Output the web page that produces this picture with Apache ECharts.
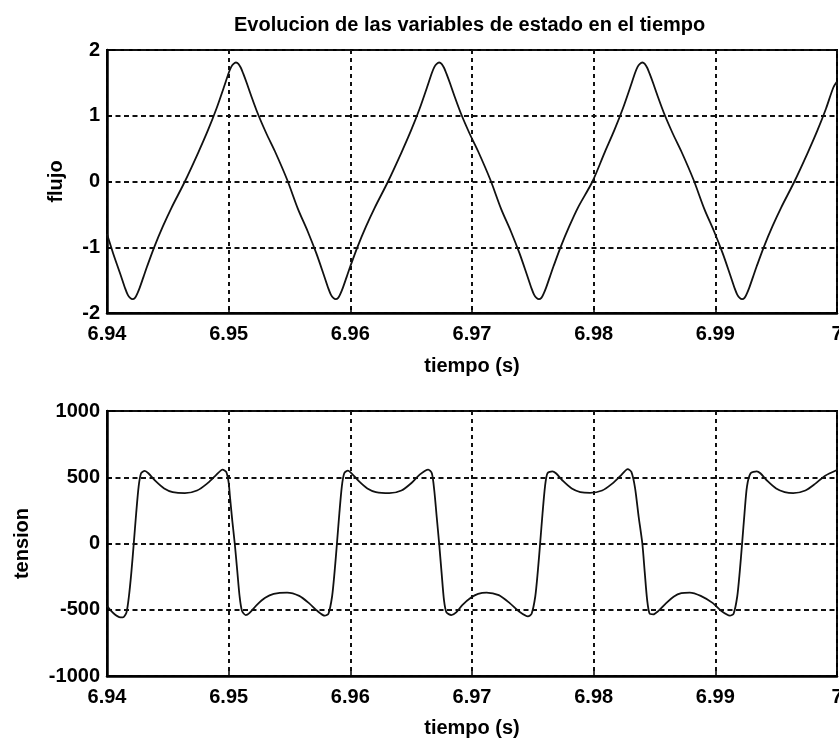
<!DOCTYPE html>
<html>
<head>
<meta charset="utf-8">
<script src="https://cdn.jsdelivr.net/npm/echarts@6/dist/echarts.min.js"></script>
<style>
html,body{margin:0;padding:0;background:#fff;}
#c{width:839px;height:740px;}
</style>
</head>
<body>
<div id="c"></div>
<script>
// ---- data ----
const xTickLabels = ['6.94', '6.95', '6.96', '6.97', '6.98', '6.99', '7'];
const fluxTicks = ['-2', '-1', '0', '1', '2'];
const tensionTicks = ['-1000', '-500', '0', '500', '1000'];

const fluxT = [
  6.9400, 6.9405, 6.9411, 6.9415, 6.9417, 6.9419, 6.9421,
  6.9423, 6.9425, 6.9427, 6.9430, 6.9433, 6.9439, 6.9446, 6.9453, 6.9464, 6.9475, 6.9483, 6.9490, 6.9496, 6.9500, 6.9502, 6.9504, 6.9506,
  6.9508, 6.9510, 6.9512, 6.9515, 6.9518, 6.9524, 6.9531, 6.9538, 6.9548, 6.9557, 6.9565, 6.9572, 6.9578, 6.9582, 6.9584, 6.9586, 6.9588,
  6.9590, 6.9592, 6.9594, 6.9597, 6.9600, 6.9606, 6.9613, 6.9620, 6.9631, 6.9642, 6.9650, 6.9657, 6.9663, 6.9667, 6.9669, 6.9671, 6.9673,
  6.9675, 6.9677, 6.9679, 6.9682, 6.9685, 6.9691, 6.9698, 6.9705, 6.9715, 6.9724, 6.9732, 6.9739, 6.9745, 6.9749, 6.9751, 6.9753, 6.9755,
  6.9757, 6.9759, 6.9761, 6.9764, 6.9767, 6.9773, 6.9780, 6.9787, 6.9799, 6.9809, 6.9817, 6.9824, 6.9830, 6.9834, 6.9836, 6.9838, 6.9840,
  6.9842, 6.9844, 6.9846, 6.9849, 6.9852, 6.9858, 6.9865, 6.9872, 6.9882, 6.9891, 6.9899, 6.9906, 6.9912, 6.9916, 6.9918, 6.9920, 6.9922,
  6.9924, 6.9926, 6.9928, 6.9931, 6.9934, 6.9940, 6.9947, 6.9954, 6.9965, 6.9976, 6.9984, 6.9991, 6.9997, 7.0000
];
const fluxV = [
  -0.80, -1.09, -1.41, -1.63, -1.72, -1.77, -1.79,
  -1.77, -1.70, -1.61, -1.45, -1.29, -0.99, -0.68, -0.40, 0.00, 0.44, 0.78, 1.11, 1.43, 1.65, 1.74, 1.79, 1.81,
  1.79, 1.73, 1.64, 1.49, 1.33, 1.03, 0.73, 0.46, 0.03, -0.42, -0.76, -1.09, -1.41, -1.63, -1.72, -1.77, -1.79,
  -1.77, -1.70, -1.61, -1.45, -1.29, -0.99, -0.68, -0.40, 0.00, 0.44, 0.78, 1.11, 1.43, 1.65, 1.74, 1.79, 1.81,
  1.79, 1.73, 1.64, 1.49, 1.33, 1.03, 0.73, 0.46, 0.03, -0.42, -0.76, -1.09, -1.41, -1.63, -1.72, -1.77, -1.79,
  -1.77, -1.70, -1.61, -1.45, -1.29, -0.99, -0.68, -0.40, 0.00, 0.44, 0.78, 1.11, 1.43, 1.65, 1.74, 1.79, 1.81,
  1.79, 1.73, 1.64, 1.49, 1.33, 1.03, 0.73, 0.46, 0.03, -0.42, -0.76, -1.09, -1.41, -1.63, -1.72, -1.77, -1.79,
  -1.77, -1.70, -1.61, -1.45, -1.29, -0.99, -0.68, -0.40, 0.00, 0.44, 0.78, 1.11, 1.43, 1.52
];

const tensionT = [
  6.9400, 6.9403, 6.9407, 6.9410, 6.9413,
  6.9416, 6.9418, 6.9420, 6.9422, 6.9424, 6.9426, 6.9428, 6.9431, 6.9434, 6.9440, 6.9447, 6.9454, 6.9464, 6.9474, 6.9482, 6.9489, 6.9495, 6.9498, 6.9500, 6.9501, 6.9503,
  6.9505, 6.9507, 6.9509, 6.9511, 6.9514, 6.9517, 6.9523, 6.9530, 6.9537, 6.9548, 6.9558, 6.9566, 6.9573, 6.9579, 6.9582, 6.9585, 6.9587,
  6.9589, 6.9591, 6.9593, 6.9595, 6.9598, 6.9601, 6.9607, 6.9614, 6.9621, 6.9632, 6.9642, 6.9650, 6.9657, 6.9664, 6.9667, 6.9669, 6.9671,
  6.9673, 6.9675, 6.9677, 6.9679, 6.9683, 6.9687, 6.9692, 6.9699, 6.9705, 6.9712, 6.9722, 6.9731, 6.9739, 6.9746, 6.9749, 6.9752, 6.9754,
  6.9756, 6.9758, 6.9760, 6.9762, 6.9766, 6.9769, 6.9775, 6.9782, 6.9789, 6.9797, 6.9807, 6.9815, 6.9822, 6.9828, 6.9831, 6.9834, 6.9837,
  6.9840, 6.9842, 6.9844, 6.9846, 6.9849, 6.9853, 6.9859, 6.9866, 6.9872, 6.9879, 6.9888, 6.9898, 6.9905, 6.9912, 6.9915, 6.9918, 6.9920,
  6.9922, 6.9924, 6.9926, 6.9929, 6.9934, 6.9937, 6.9943, 6.9950, 6.9957, 6.9964, 6.9974, 6.9982, 6.9990, 7.0000
];
const tensionV = [
  -470, -505, -540, -555, -558,
  -520, -400, -220, 0, 230, 430, 530, 548, 530, 470, 415, 388, 380, 400, 450, 510, 558, 540, 460, 360, 170,
  0, -200, -400, -510, -540, -525, -465, -410, -380, -370, -395, -450, -510, -545, -530, -400, -220,
  0, 230, 430, 530, 550, 530, 470, 415, 388, 380, 400, 455, 520, 558, 530, 400, 200,
  0, -220, -430, -520, -540, -520, -465, -410, -380, -370, -390, -450, -515, -550, -530, -400, -220,
  0, 230, 430, 530, 545, 530, 470, 415, 388, 382, 400, 450, 510, 562, 540, 420, 200,
  0, -220, -430, -530, -535, -510, -455, -400, -375, -370, -395, -450, -510, -545, -530, -400, -220,
  0, 230, 430, 530, 545, 530, 470, 415, 388, 380, 400, 450, 510, 555
];

// ---- chart ----
const FONT = '"Liberation Sans", Arial, sans-serif';
const fluxData = fluxT.map((t, i) => [t, fluxV[i]]);
const tensionData = tensionT.map((t, i) => [t, tensionV[i]]);

function xLabel(v) {
  const i = Math.round((v - 6.94) / 0.01);
  return xTickLabels[i] !== undefined ? xTickLabels[i] : '';
}
function tickLabel(arr, min, step) {
  return function (v) {
    const i = Math.round((v - min) / step);
    return arr[i] !== undefined ? arr[i] : '';
  };
}

const hGrid = { show: true, lineStyle: { color: '#111', width: 2, type: [5, 3.5] } };
const vGrid = { show: true, lineStyle: { color: '#111', width: 2, type: [4, 4] } };
const axisLine = { show: true, onZero: false, lineStyle: { color: '#000', width: 2.5 } };
const axisTick = { show: true, inside: true, length: 5, lineStyle: { color: '#000', width: 1.5 } };
const labelStyle = { color: '#000', fontFamily: FONT, fontSize: 20, fontWeight: 'bold' };

function xAxisDef(gridIndex, gap) {
  return {
    type: 'value', gridIndex: gridIndex, min: 6.94, max: 7, interval: 0.01,
    name: 'tiempo (s)', nameLocation: 'middle', nameGap: gap,
    nameTextStyle: labelStyle,
    axisLine: axisLine, axisTick: axisTick, splitLine: vGrid,
    axisLabel: Object.assign({ margin: 11, formatter: xLabel, showMinLabel: true, showMaxLabel: true }, labelStyle)
  };
}

const option = {
  animation: false,
  backgroundColor: '#fff',
  title: {
    text: 'Evolucion de las variables de estado en el tiempo',
    left: 229, top: 10,
    textStyle: { color: '#000', fontFamily: FONT, fontSize: 20, fontWeight: 'bold' }
  },
  grid: [
    { left: 107, right: 2, top: 50, height: 263, show: true, borderColor: '#000', borderWidth: 2, outerBoundsMode: 'none', containLabel: false },
    { left: 107, right: 2, top: 411, height: 265, show: true, borderColor: '#000', borderWidth: 2, outerBoundsMode: 'none', containLabel: false }
  ],
  xAxis: [xAxisDef(0, 43), xAxisDef(1, 42)],
  yAxis: [
    {
      type: 'value', gridIndex: 0, min: -2, max: 2, interval: 1,
      name: 'flujo', nameLocation: 'middle', nameGap: 41, nameTextStyle: labelStyle,
      axisLine: axisLine, axisTick: axisTick, splitLine: hGrid,
      axisLabel: Object.assign({ margin: 7, formatter: tickLabel(fluxTicks, -2, 1) }, labelStyle)
    },
    {
      type: 'value', gridIndex: 1, min: -1000, max: 1000, interval: 500,
      name: 'tension', nameLocation: 'middle', nameGap: 75, nameTextStyle: labelStyle,
      axisLine: axisLine, axisTick: axisTick, splitLine: hGrid,
      axisLabel: Object.assign({ margin: 7, formatter: tickLabel(tensionTicks, -1000, 500) }, labelStyle)
    }
  ],
  series: [
    {
      type: 'line', xAxisIndex: 0, yAxisIndex: 0, data: fluxData,
      showSymbol: false, smooth: 0.3,
      lineStyle: { color: '#111', width: 1.8 }
    },
    {
      type: 'line', xAxisIndex: 1, yAxisIndex: 1, data: tensionData,
      showSymbol: false, smooth: 0.25,
      lineStyle: { color: '#111', width: 1.8 }
    }
  ]
};

const chart = echarts.init(document.getElementById('c'), null, { renderer: 'canvas' });
chart.setOption(option);
</script>
</body>
</html>
